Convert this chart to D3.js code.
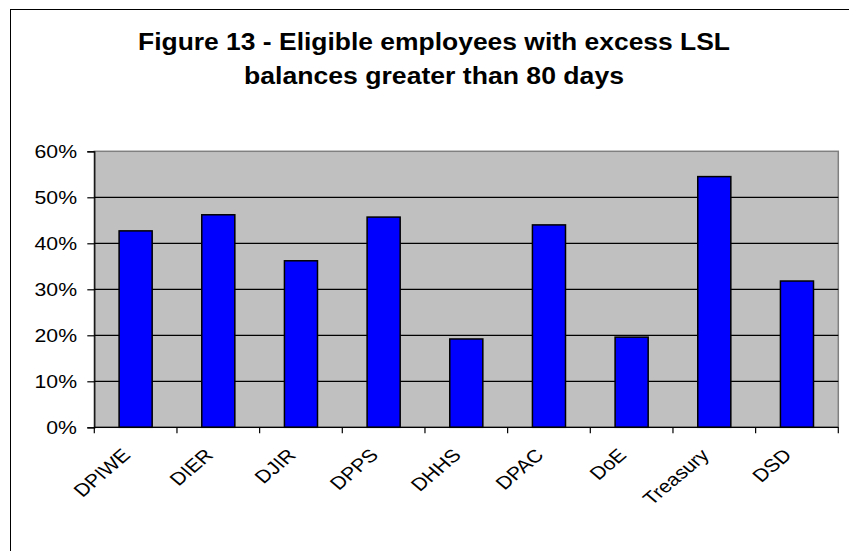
<!DOCTYPE html>
<html>
<head>
<meta charset="utf-8">
<script src="https://cdn.jsdelivr.net/npm/d3@7"></script>
<style>
  html, body { margin: 0; padding: 0; background: #fff; }
  svg { display: block; font-family: Arial, "Liberation Sans", sans-serif; }
</style>
</head>
<body>
<svg id="chart" width="849" height="551"></svg>
<script>
// Departments and share of eligible employees with LSL balances above 80 days
const categories = ["DPIWE", "DIER", "DJIR", "DPPS", "DHHS", "DPAC", "DoE", "Treasury", "DSD"];
const shares = [0.427, 0.462, 0.362, 0.457, 0.192, 0.440, 0.196, 0.545, 0.318];
const yTicks = [0, 0.1, 0.2, 0.3, 0.4, 0.5, 0.6];
const titleLines = ["Figure 13 - Eligible employees with excess LSL", "balances greater than 80 days"];

// Text in this figure is set slightly wide
const textStretch = 1.18;

const svg = d3.select("#chart");

// Outer chart frame (runs past the right and bottom edges of the view)
svg.append("rect")
  .attr("x", 10.5).attr("y", 9.5)
  .attr("width", 900).attr("height", 600)
  .attr("fill", "#fff").attr("stroke", "#000").attr("stroke-width", 1);

const plot = { left: 94.3, right: 838.3, top: 151.3, bottom: 427.3 };

const x = d3.scaleBand()
  .domain(categories)
  .range([plot.left, plot.right])
  .paddingInner(0.6)
  .paddingOuter(0.3);

const xEdges = d3.scaleBand()
  .domain(categories)
  .range([plot.left, plot.right])
  .padding(0);

const y = d3.scaleLinear()
  .domain([0, 0.6])
  .range([plot.bottom, plot.top]);

// Title, two centred lines
const titleWidths = [592, 380];
svg.append("g")
  .selectAll("text")
  .data(titleLines)
  .join("text")
  .attr("x", 434)
  .attr("y", (d, i) => 50 + i * 33.5)
  .attr("text-anchor", "middle")
  .attr("font-weight", "bold")
  .attr("font-size", 23)
  .attr("fill", "#000")
  .attr("textLength", (d, i) => titleWidths[i])
  .attr("lengthAdjust", "spacingAndGlyphs")
  .text(d => d);

// Plot background
svg.append("rect")
  .attr("x", plot.left).attr("y", plot.top)
  .attr("width", plot.right - plot.left).attr("height", plot.bottom - plot.top)
  .attr("fill", "#c0c0c0").attr("stroke", "#808080").attr("stroke-width", 1.5);

// Gridlines
svg.append("g")
  .selectAll("line")
  .data(yTicks.filter(t => t > 0 && t < 0.6))
  .join("line")
  .attr("x1", plot.left).attr("x2", plot.right)
  .attr("y1", d => y(d)).attr("y2", d => y(d))
  .attr("stroke", "#000").attr("stroke-width", 1.2);

// Bars
svg.append("g")
  .selectAll("rect")
  .data(categories.map((c, i) => ({ c, v: shares[i] })))
  .join("rect")
  .attr("x", d => x(d.c))
  .attr("y", d => y(d.v))
  .attr("width", x.bandwidth())
  .attr("height", d => y(0) - y(d.v))
  .attr("fill", "#0000ff")
  .attr("stroke", "#000")
  .attr("stroke-width", 1.5);

// Y axis
const yAxis = svg.append("g")
  .attr("transform", `translate(${plot.left},0)`)
  .call(d3.axisLeft(y).tickValues(yTicks).tickFormat(d3.format(".0%")).tickSize(7).tickPadding(10));
yAxis.select(".domain").attr("stroke", "#000").attr("stroke-width", 1.2);
yAxis.selectAll(".tick line").attr("stroke", "#000").attr("stroke-width", 1.2);
yAxis.selectAll(".tick text")
  .attr("x", null).attr("dy", "0.36em")
  .attr("transform", `translate(${77 - plot.left},0) scale(${textStretch},1)`)
  .attr("font-size", 18)
  .attr("font-family", "Arial, 'Liberation Sans', sans-serif")
  .attr("fill", "#000");

// X axis: ticks at category boundaries
const xAxisG = svg.append("g").attr("transform", `translate(0,${plot.bottom})`);
xAxisG.append("line")
  .attr("x1", plot.left).attr("x2", plot.right)
  .attr("stroke", "#000").attr("stroke-width", 1.2);
const edges = categories.map(c => xEdges(c)).concat([plot.right]);
xAxisG.selectAll("line.edge")
  .data(edges)
  .join("line")
  .attr("class", "edge")
  .attr("x1", d => d).attr("x2", d => d)
  .attr("y1", 0).attr("y2", 6)
  .attr("stroke", "#000").attr("stroke-width", 1.2);

// Rotated category labels, ending just left of each category centre
xAxisG.selectAll("text")
  .data(categories)
  .join("text")
  .attr("transform", d =>
    `translate(${xEdges(d) + xEdges.bandwidth() / 2 - 4},${29}) scale(${textStretch},1) rotate(-45)`)
  .attr("text-anchor", "end")
  .attr("font-size", 18)
  .attr("fill", "#000")
  .text(d => d);
</script>
</body>
</html>
